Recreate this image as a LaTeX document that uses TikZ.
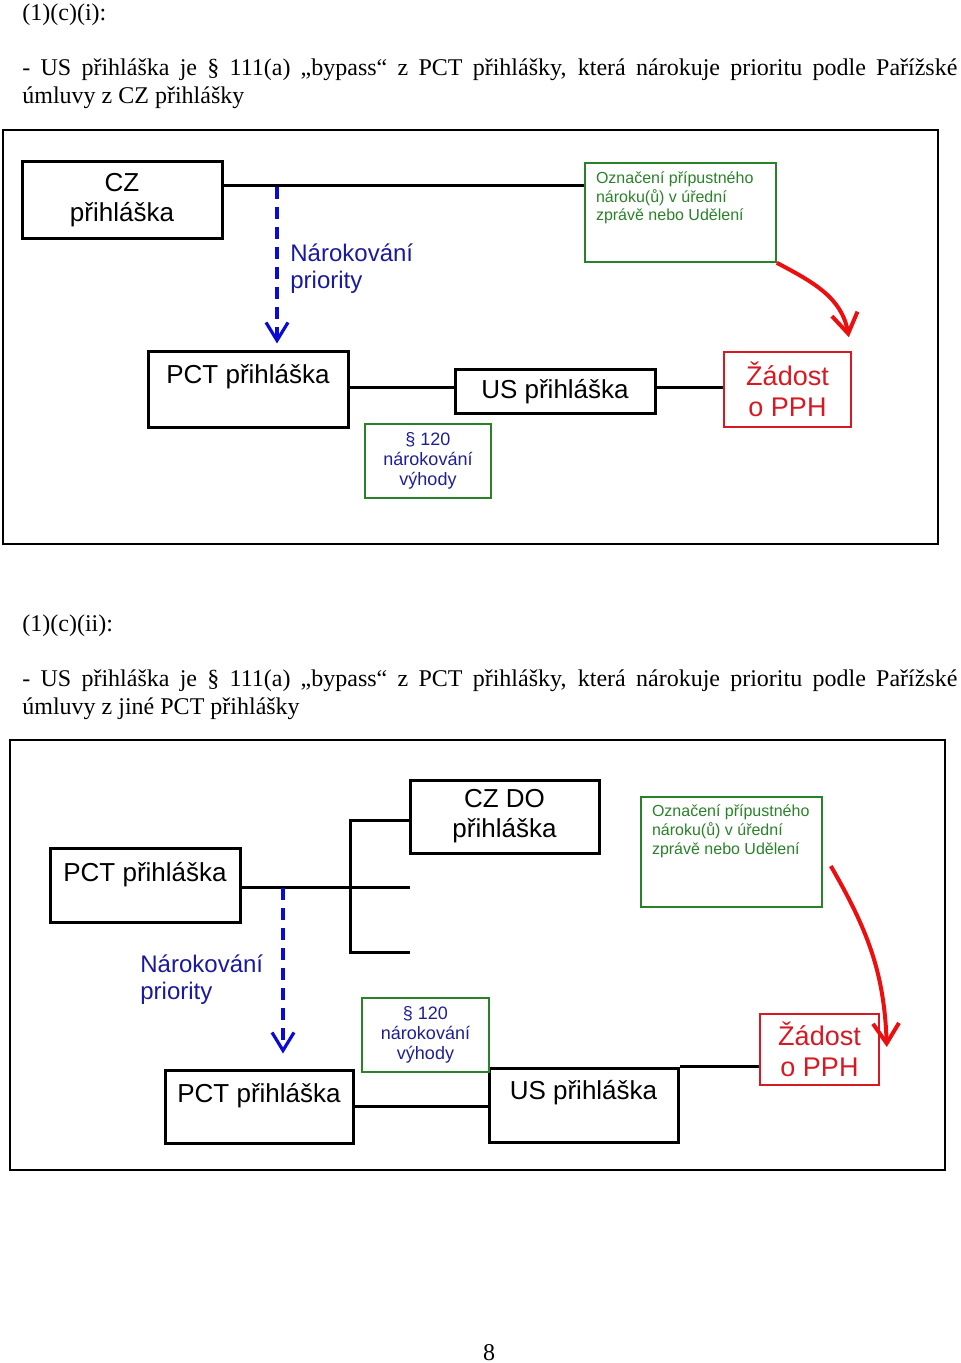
\documentclass[tikz,border=0pt]{standalone}
\usepackage{fontspec}
\setmainfont{Liberation Serif}
\newfontfamily\diagfont{Liberation Sans}
\usetikzlibrary{arrows.meta}

\definecolor{okgreen}{RGB}{40,130,40}
\definecolor{secblue}{RGB}{30,30,150}
\definecolor{prioblue}{RGB}{10,10,215}
\definecolor{priotext}{RGB}{25,25,160}
\definecolor{pphred}{RGB}{215,25,35}
\definecolor{arrred}{RGB}{235,15,15}

\tikzset{
  para/.style={anchor=base west, inner sep=0pt, font=\fontsize{12}{14}\selectfont},
  outerframe/.style={line width=0.9pt},
  appbox/.style={draw, line width=1.5pt, inner sep=0pt, align=center,
    font=\diagfont\fontsize{13}{15}\selectfont},
  okbox/.style={draw=okgreen, line width=0.8pt, inner sep=0pt},
  oktext/.style={anchor=north west, inner sep=0pt, align=left, text=okgreen,
    font=\diagfont\fontsize{8}{9.3}\selectfont},
  secbox/.style={draw=okgreen, line width=0.8pt, inner sep=0pt, align=center,
    text=secblue, font=\diagfont\fontsize{9}{10}\selectfont},
  ppbox/.style={draw=pphred, line width=0.8pt, inner sep=0pt, align=center,
    text=pphred, font=\diagfont\fontsize{13.5}{15.5}\selectfont},
  conn/.style={line width=1.5pt},
  prio/.style={draw=prioblue, line width=1.6pt, dash pattern=on 6pt off 4pt,
    -{Straight Barb[length=9pt,width=11pt]}},
  priolabel/.style={anchor=north west, inner sep=0pt, align=left, text=priotext,
    font=\diagfont\fontsize{12}{13.75}\selectfont},
  pph/.style={draw=arrred, line width=2pt, -{Straight Barb[length=10pt,width=13pt]}}
}

\begin{document}
\begin{tikzpicture}[x=0.5pt,y=-0.5pt]
\useasboundingbox (0,0) rectangle (960,1363);

% (1)(c)(i)
\node[para] (h1) at (22,21) {(1)(c)(i):};
\node[para] (p1a) at (22,76) {\makebox[467.5pt][s]{- US přihláška je § 111(a) „bypass“ z PCT přihlášky, která nárokuje prioritu podle Pařížské}};
\node[para] (p1b) at (22,104) {úmluvy z CZ přihlášky};
\draw[outerframe] (3,130) rectangle (938,544);

\node[appbox, minimum width=100pt, minimum height=38.5pt] (cz1) at (122,200.5) {CZ\\přihláška};
\node[okbox, minimum width=95.5pt, minimum height=49.5pt] (ok1) at (680.5,212.5) {};
\node[oktext] (ok1t) at ([shift={(5.7pt,-4.6pt)}]ok1.north west) {Označení přípustného\\nároku(ů) v úřední\\zprávě nebo Udělení};
\node[appbox, minimum width=100pt, text height=16pt, text depth=22pt] (pct1) at (248,390) {PCT přihláška};
\node[appbox, minimum width=100pt, minimum height=22pt] (us1) at (555,392) {US přihláška};
\node[ppbox, minimum width=63.5pt, minimum height=37.5pt] (zad1) at (787.5,389.5) {Žádost\\o PPH};
\node[secbox, minimum width=63pt, minimum height=37pt] (sec1) at (428,461) {§ 120\\nárokování\\výhody};

\draw[conn] ([yshift=7.25pt]cz1.east) -- ([yshift=7.25pt]cz1.east -| ok1.west);
\draw[conn] ([yshift=1pt]pct1.east) -- ([yshift=1pt]pct1.east -| us1.west)
  ([yshift=1pt]pct1.east -| us1.east) -- ([yshift=1pt]pct1.east -| zad1.west);
\coordinate (pr1) at (277,187);
\draw[prio] (pr1) -- ([xshift=14.5pt,yshift=3.5pt]pct1.north);
\node[priolabel] (nar1) at (290,243) {Nárokování\\priority};
\draw[pph] (ok1.south east) to[out=-28,in=100] ([xshift=-1.5pt,yshift=7pt]zad1.north east);

% (1)(c)(ii)
\node[para] (h2) at (22,631) {(1)(c)(ii):};
\node[para] (p2a) at (22,686) {\makebox[467.5pt][s]{- US přihláška je § 111(a) „bypass“ z PCT přihlášky, která nárokuje prioritu podle Pařížské}};
\node[para] (p2b) at (22,714) {úmluvy z jiné PCT přihlášky};
\draw[outerframe] (10,740) rectangle (945,1170);

\node[appbox, minimum width=94.5pt, minimum height=36.5pt] (czdo) at (504.5,816.5) {CZ DO\\přihláška};
\node[okbox, minimum width=90.5pt, minimum height=55pt] (ok2) at (731.5,852) {};
\node[oktext] (ok2t) at ([shift={(5.7pt,-4.3pt)}]ok2.north west) {Označení přípustného\\nároku(ů) v úřední\\zprávě nebo Udělení};
\node[appbox, minimum width=95pt, text height=16.5pt, text depth=20.5pt] (pct2a) at (145,885) {PCT přihláška};
\node[appbox, minimum width=94pt, text height=16pt, text depth=20.5pt] (pct2b) at (259,1106.5) {PCT přihláška};
\node[appbox, minimum width=94.5pt, text height=15.5pt, text depth=21.5pt] (us2) at (583.5,1105) {US přihláška};
\node[ppbox, minimum width=59.5pt, minimum height=35.5pt] (zad2) at (819.5,1049.5) {Žádost\\o PPH};
\node[secbox, minimum width=63.5pt, minimum height=37pt] (sec2) at (425.5,1035) {§ 120\\nárokování\\výhody};

\coordinate (brt) at (350,820);
\coordinate (brb) at (350,952);
\coordinate (mid2) at (410,887);
\coordinate (bot2) at (410,952);
\draw[conn] (czdo.west |- brt) -- (brt) -- (brb) -- (bot2);
\draw[conn] ([yshift=-1pt]pct2a.east) -- (mid2);
\draw[conn] (pct2b.east) -- (pct2b.east -| us2.west);
\draw[conn] (us2.north east) -- (us2.north east -| zad2.west);
\coordinate (pr2) at (283,888);
\draw[prio] (pr2) -- ([xshift=12pt,yshift=7.5pt]pct2b.north);
\node[priolabel] (nar2) at (140,954) {Nárokování\\priority};
\draw[pph] ([shift={(4pt,-7pt)}]ok2.east) to[out=-60,in=92] ([shift={(3.5pt,1.25pt)}]zad2.east);

\node[anchor=base, inner sep=0pt, font=\fontsize{12}{14}\selectfont] (pg) at (489,1360) {8};
\end{tikzpicture}
\end{document}
